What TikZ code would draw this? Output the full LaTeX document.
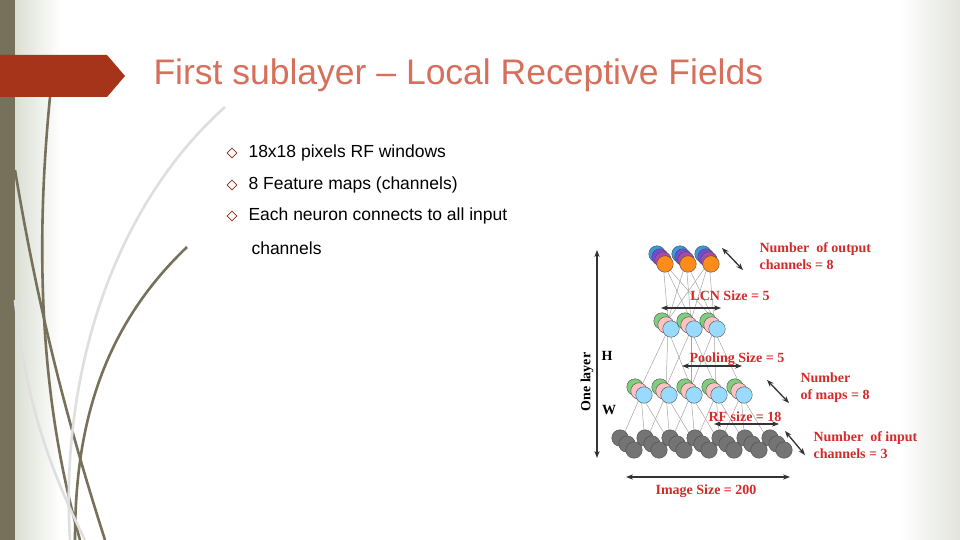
\documentclass[tikz,border=0pt]{standalone}
\usepackage{fontspec}
\setmainfont{Liberation Sans}
\newfontfamily\lblfont{Liberation Serif}
\usetikzlibrary{arrows.meta,shapes.geometric}
\definecolor{olive}{HTML}{77705A}
\definecolor{banner}{HTML}{A5341A}
\definecolor{titlec}{HTML}{D6705C}
\definecolor{lblred}{HTML}{D42A2A}
\begin{document}
\begin{tikzpicture}[x=1pt,y=-1pt,
  cir/.style={circle,draw=gray!60!black,line width=0.4pt,minimum size=16.5pt,inner sep=0pt},
  conn/.style={draw=gray!70,line width=0.5pt},
  dbl/.style={{Stealth[length=7pt]}-{Stealth[length=7pt]},line width=1.3pt,black!80},
  lbl/.style={text=lblred,font=\lblfont\bfseries\fontsize{14}{17}\selectfont,align=left,anchor=west},
  blk/.style={font=\lblfont\bfseries\fontsize{14}{17}\selectfont},
  bul/.style={anchor=west,font=\fontsize{17.5}{20}\selectfont},
  curve/.style={draw=olive,line width=2.6pt}]
\useasboundingbox (0,0) rectangle (960,540);
\fill[white] (0,0) rectangle (960,540);
\shade[left color=green!10!olive!25,right color=white] (15,0) rectangle (60,540);
\shade[left color=white,right color=green!8!olive!20] (900,0) rectangle (960,540);
\fill[olive] (0,0) rectangle (15,540);
% curves
\draw[curve] (50,97) .. controls (35,250) and (40,400) .. (80,540);
\draw[curve] (15,170) .. controls (40,320) and (70,430) .. (105,540);
\draw[curve] (187,247) .. controls (100,330) and (75,430) .. (75,540);
\draw[draw=gray!25,line width=2.6pt] (225,107) .. controls (110,210) and (60,380) .. (70,540);
\draw[draw=gray!25,line width=2.6pt] (15,300) .. controls (25,400) and (50,470) .. (85,540);
% banner
\fill[banner] (0,55) -- (107,55) -- (125,76) -- (107,97) -- (0,97) -- cycle;
\node[anchor=west,text=titlec,font=\fontsize{35.5}{40}\selectfont] (title) at (150,75) {First sublayer – Local Receptive Fields};
% bullets
\foreach \y/\t [count=\i] in {153/18x18 pixels RF windows,185/8 Feature maps (channels),216/Each neuron connects to all input}{
  \node[draw=banner!80!black,diamond,minimum size=10pt,inner sep=0pt,line width=0.6pt] (d\i) at (232,\y) {};
  \node[bul] (b\i) at (245,\y) {\t};
}
\node[bul] (b4) at (248,248) {channels};
% connections
\foreach \a in {1,...,7} \foreach \b in {1,...,5} {
  \pgfmathtruncatemacro{\ok}{abs(\a-\b-1)<=1 ? 1 : 0}
  \ifnum\ok=1 \draw[conn] ({620+(\a-1)*25},443) -- ({641+(\b-1)*25},395); \fi }
\foreach \a in {1,...,5} \foreach \b in {1,...,3} {
  \pgfmathtruncatemacro{\ok}{abs(\a-\b-1)<=1 ? 1 : 0}
  \ifnum\ok=1 \draw[conn] ({641+(\a-1)*25},387) -- ({668+(\b-1)*23},330); \fi }
\foreach \a in {1,...,3} \foreach \b in {1,...,3}
  \draw[conn] ({668+(\a-1)*23},320) -- ({663+(\b-1)*23},262);
% input layer
\foreach \i in {1,...,7}{
  \pgfmathsetmacro{\x}{620+(\i-1)*25}
  \foreach \k in {0,1,2}
    \node[cir,fill=gray!55!black!75] (in\i\k) at ({\x+\k*7},{438+\k*6}) {};
}
% maps layer
\foreach \i in {1,...,5}{
  \pgfmathsetmacro{\x}{635+(\i-1)*25}
  \node[cir,fill=green!45!gray!70] (m\i a) at (\x,387) {};
  \node[cir,fill=pink!80!red!60] (m\i b) at ({\x+4},391) {};
  \node[cir,fill=blue!35!cyan!40] (m\i c) at ({\x+9},395) {};
}
% pooling layer
\foreach \i in {1,...,3}{
  \pgfmathsetmacro{\x}{662+(\i-1)*23}
  \node[cir,fill=green!45!gray!70] (p\i a) at (\x,321) {};
  \node[cir,fill=pink!80!red!60] (p\i b) at ({\x+4},325) {};
  \node[cir,fill=blue!35!cyan!40] (p\i c) at ({\x+9},329) {};
}
% output layer
\foreach \i in {1,...,3}{
  \pgfmathsetmacro{\x}{657+(\i-1)*23}
  \node[cir,fill=cyan!70!blue!80] (o\i a) at (\x,254) {};
  \node[cir,fill=blue!60!violet!70] (o\i b) at ({\x+3},257) {};
  \node[cir,fill=violet!70] (o\i c) at ({\x+6},260) {};
  \node[cir,fill=orange!90] (o\i d) at ({\x+8},264) {};
}
% arrows
\coordinate (ol1) at (597,250); \coordinate (ol2) at (597,458);
\draw[dbl] (ol1) -- (ol2);
\node[rotate=90,blk] (onel) at (587,382) {One layer};
\node[blk] (H) at (607,356) {H};
\node[blk] (W) at (609,410) {W};
\coordinate (im1) at (626,477); \coordinate (im2) at (790,477);
\draw[dbl] (im1) -- (im2);
\node[lbl,anchor=center] (imt) at (706,491) {Image Size = 200};
\coordinate (lc1) at (661,308); \coordinate (lc2) at (721,308);
\draw[dbl] (lc1) -- (lc2);
\node[lbl,anchor=center] (lct) at (730,296) {LCN Size = 5};
\coordinate (po1) at (682,366); \coordinate (po2) at (742,366);
\draw[dbl] (po1) -- (po2);
\node[lbl,anchor=center] (pot) at (737,359) {Pooling Size = 5};
\coordinate (rf1) at (714,424); \coordinate (rf1b) at (779,424);
\draw[dbl] (rf1) -- (rf1b);
\node[lbl,anchor=center] (rft) at (745,417) {RF size = 18};
\coordinate (da1) at (722,248); \coordinate (da2) at (743,270);
\draw[dbl] (da1) -- (da2);
\coordinate (db1) at (767,380); \coordinate (db2) at (789,403);
\draw[dbl] (db1) -- (db2);
\coordinate (dc1) at (785,431); \coordinate (dc2) at (805,455);
\draw[dbl] (dc1) -- (dc2);
\node[lbl] (l1) at (756,256) {Number\ \ of output\\channels = 8};
\node[lbl] (l2) at (797,388) {Number\\of maps = 8};
\node[lbl] (l3) at (810,445) {Number\ \ of input\\channels = 3};
\end{tikzpicture}
\end{document}
